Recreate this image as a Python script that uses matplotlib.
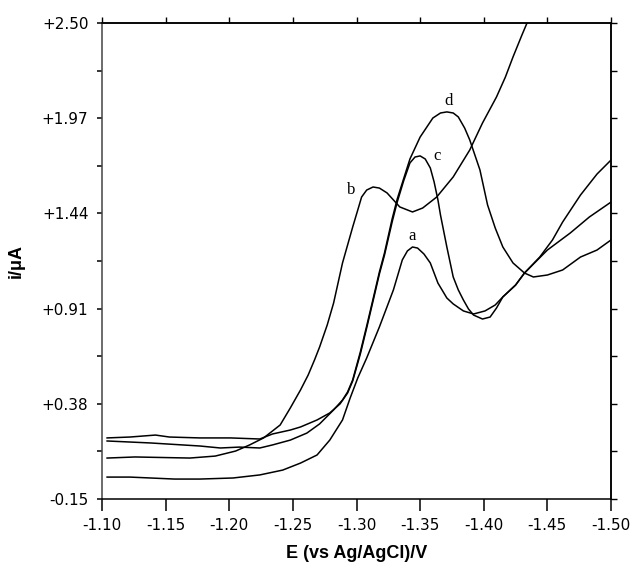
import matplotlib
matplotlib.use("Agg")
import matplotlib.pyplot as plt
from matplotlib.ticker import FixedLocator, FixedFormatter, NullFormatter

plt.rcParams['axes.unicode_minus'] = False
plt.rcParams['font.family'] = ['DejaVu Sans']

# ---- data (E in V, i in uA) ----
E_a = [-1.104, -1.122, -1.138, -1.157, -1.177, -1.203, -1.224, -1.242, -1.256, -1.269,
       -1.279, -1.289, -1.295, -1.301, -1.308, -1.318, -1.329, -1.336, -1.340, -1.344,
       -1.348, -1.353, -1.358, -1.364, -1.371, -1.376, -1.384, -1.392, -1.401, -1.409,
       -1.415, -1.425, -1.432, -1.450, -1.468, -1.483, -1.500]
i_a = [-0.028, -0.028, -0.033, -0.039, -0.039, -0.033, -0.016, 0.011, 0.050, 0.095,
       0.178, 0.290, 0.412, 0.524, 0.635, 0.808, 1.014, 1.181, 1.231, 1.253,
       1.247, 1.214, 1.164, 1.052, 0.969, 0.936, 0.897, 0.880, 0.897, 0.930,
       0.975, 1.041, 1.108, 1.236, 1.331, 1.420, 1.503]

E_b = [-1.104, -1.126, -1.169, -1.189, -1.205, -1.216, -1.227, -1.240, -1.248, -1.256,
       -1.262, -1.267, -1.271, -1.277, -1.282, -1.289, -1.297, -1.301, -1.304, -1.308,
       -1.313, -1.318, -1.324, -1.334, -1.344, -1.352, -1.363, -1.376, -1.389, -1.399,
       -1.410, -1.417, -1.423, -1.430, -1.434]
i_b = [0.078, 0.084, 0.078, 0.089, 0.117, 0.151, 0.190, 0.262, 0.357, 0.457,
       0.540, 0.624, 0.696, 0.819, 0.941, 1.164, 1.364, 1.459, 1.531, 1.570,
       1.587, 1.581, 1.554, 1.476, 1.448, 1.470, 1.531, 1.643, 1.793, 1.943,
       2.088, 2.199, 2.311, 2.433, 2.500]

E_c = [-1.104, -1.122, -1.142, -1.153, -1.177, -1.201, -1.224, -1.234, -1.248, -1.256,
       -1.269, -1.279, -1.287, -1.293, -1.297, -1.303, -1.308, -1.313, -1.318, -1.322,
       -1.328, -1.332, -1.337, -1.342, -1.346, -1.350, -1.354, -1.358, -1.361, -1.364,
       -1.366, -1.371, -1.376, -1.380, -1.384, -1.388, -1.392, -1.399, -1.405, -1.410,
       -1.415, -1.425, -1.432, -1.444, -1.454, -1.462, -1.476, -1.489, -1.500]
i_c = [0.190, 0.195, 0.206, 0.195, 0.190, 0.190, 0.184, 0.212, 0.234, 0.251,
       0.290, 0.329, 0.379, 0.440, 0.507, 0.657, 0.802, 0.952, 1.103, 1.208,
       1.392, 1.503, 1.620, 1.721, 1.754, 1.760, 1.743, 1.693, 1.615, 1.515,
       1.431, 1.253, 1.086, 1.014, 0.958, 0.908, 0.874, 0.852, 0.863, 0.913,
       0.975, 1.041, 1.108, 1.197, 1.292, 1.392, 1.542, 1.659, 1.737]

E_d = [-1.104, -1.138, -1.177, -1.193, -1.208, -1.224, -1.234, -1.248, -1.261, -1.271,
       -1.282, -1.289, -1.293, -1.297, -1.303, -1.308, -1.313, -1.318, -1.322, -1.328,
       -1.332, -1.337, -1.342, -1.350, -1.360, -1.366, -1.371, -1.376, -1.380, -1.385,
       -1.389, -1.397, -1.403, -1.409, -1.415, -1.423, -1.432, -1.439, -1.450, -1.462,
       -1.476, -1.489, -1.500]
i_d = [0.173, 0.162, 0.145, 0.134, 0.139, 0.134, 0.151, 0.178, 0.217, 0.268,
       0.346, 0.401, 0.446, 0.513, 0.668, 0.813, 0.963, 1.114, 1.220, 1.409,
       1.520, 1.632, 1.743, 1.865, 1.971, 1.999, 2.005, 1.999, 1.977, 1.915,
       1.849, 1.682, 1.487, 1.359, 1.253, 1.164, 1.108, 1.086, 1.097, 1.125,
       1.197, 1.236, 1.292]

curve_labels = ['a', 'b', 'c', 'd']
label_E = [-1.344, -1.296, -1.363, -1.372]
label_i = [1.314, 1.570, 1.760, 2.066]

x_ticks = [-1.10, -1.15, -1.20, -1.25, -1.30, -1.35, -1.40, -1.45, -1.50]
x_ticklabels = ['-1.10', '-1.15', '-1.20', '-1.25', '-1.30', '-1.35', '-1.40', '-1.45', '-1.50']
y_ticks = [-0.15, 0.38, 0.91, 1.44, 1.97, 2.50]
y_ticklabels = ['-0.15', '+0.38', '+0.91', '+1.44', '+1.97', '+2.50']
y_minor = [0.115, 0.645, 1.175, 1.705, 2.235]

fig = plt.figure(figsize=(6.32, 5.63), dpi=100)
ax = fig.add_axes([102/632, 1 - 499/563, 509/632, 476/563])

for E, I in [(E_a, i_a), (E_b, i_b), (E_c, i_c), (E_d, i_d)]:
    ax.plot(E, I, color='black', lw=1.1, solid_joinstyle='round')

for t, xe, yi in zip(curve_labels, label_E, label_i):
    ax.text(xe, yi, t, family='Liberation Serif', fontsize=12, ha='center', va='center')

ax.set_xlim(-1.10, -1.50)
ax.set_ylim(-0.15, 2.50)

ax.xaxis.set_major_locator(FixedLocator(x_ticks))
ax.xaxis.set_major_formatter(FixedFormatter(x_ticklabels))
ax.yaxis.set_major_locator(FixedLocator(y_ticks))
ax.yaxis.set_major_formatter(FixedFormatter(y_ticklabels))
ax.yaxis.set_minor_locator(FixedLocator(y_minor))
ax.yaxis.set_minor_formatter(NullFormatter())

ax.tick_params(axis='x', which='major', direction='out', length=8.6, width=1.1,
               labelsize=11, pad=5, top=False)
ax.tick_params(axis='y', which='both', direction='out', length=3.8, width=1.1,
               labelsize=11, pad=6, right=False)

for s in ['left', 'bottom', 'top', 'right']:
    ax.spines[s].set_linewidth(1.1)
ax.spines['left'].set_color('#444444')

# top ticks
secx = ax.secondary_xaxis('top')
secx.xaxis.set_major_locator(FixedLocator(x_ticks))
secx.xaxis.set_major_formatter(NullFormatter())
secx.tick_params(direction='out', length=4.0, width=1.0)
secx.spines['top'].set_linewidth(1.1)

# right ticks
secy = ax.secondary_yaxis('right')
secy.yaxis.set_major_locator(FixedLocator(y_ticks))
secy.yaxis.set_minor_locator(FixedLocator(y_minor))
secy.yaxis.set_major_formatter(NullFormatter())
secy.yaxis.set_minor_formatter(NullFormatter())
secy.tick_params(which='both', direction='out', length=4.0, width=1.0)
secy.spines['right'].set_linewidth(1.1)

ax.set_xlabel('E (vs Ag/AgCl)/V', family='Liberation Sans', fontweight='bold',
              fontsize=13, labelpad=9)
ax.set_ylabel('i/μA', family='Liberation Sans', fontweight='bold', fontsize=13,
              labelpad=12)

fig.savefig('out.png', dpi=100)
